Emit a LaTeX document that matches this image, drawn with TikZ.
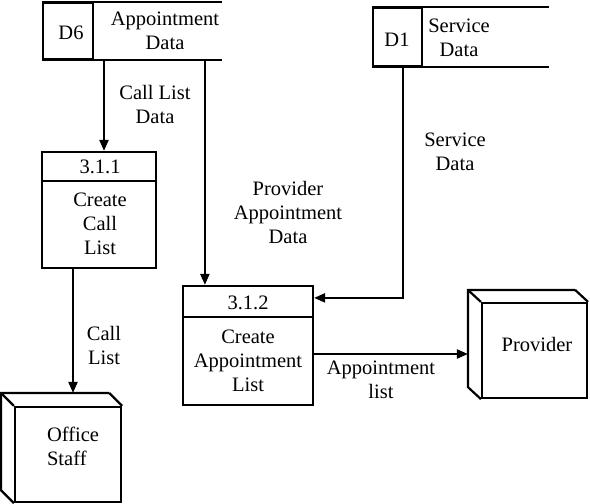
\documentclass[tikz,border=0pt]{standalone}
\usepackage{fontspec}
\setmainfont{Liberation Serif}
\newfontfamily\dfdfont{Liberation Serif}
\usetikzlibrary{arrows.meta,calc}
\begin{document}
\begin{tikzpicture}[x=1pt,y=-1pt,line width=2.2pt,
  every node/.style={font=\dfdfont\fontsize{20.5}{24}\selectfont, inner sep=0pt, align=center},
  flow/.style={-{Triangle[length=11pt,width=9pt]}},
  frame/.style={draw, line width=2.2pt}]
\useasboundingbox (0,0) rectangle (590,504);

% ---- data store D6
\node[frame, minimum width=50pt, minimum height=56pt] (d6id) at (68,31) {};
\node (d6num) at (71,33) {D6};
\coordinate (d6end) at (222,31);
\draw (d6id.north west) -- (d6id.north west -| d6end);
\draw (d6id.south west) -- (d6id.south west -| d6end);
\node (d6txt) at (165,31) {Appointment\\Data};

% ---- data store D1
\node[frame, minimum width=49pt, minimum height=58pt] (d1id) at (397.5,37) {};
\node (d1num) at (397,40) {D1};
\coordinate (d1end) at (549,37);
\draw (d1id.north west) -- (d1id.north west -| d1end);
\draw (d1id.south west) -- (d1id.south west -| d1end);
\node (d1txt) at (459,38) {Service\\Data};

% ---- process 3.1.1
\node[frame, minimum width=114pt, minimum height=116pt] (p1) at (99,210) {};
\draw ([yshift=-30pt]p1.north west) -- ([yshift=-30pt]p1.north east);
\node (p1num) at (100,167) {3.1.1};
\node (p1txt) at (100,224) {Create\\Call\\List};

% ---- process 3.1.2
\node[frame, minimum width=130pt, minimum height=119pt] (p2) at (248,345.5) {};
\draw ([yshift=-32pt]p2.north west) -- ([yshift=-32pt]p2.north east);
\node (p2num) at (248,303) {3.1.2};
\node (p2txt) at (248,361) {Create\\Appointment\\List};

% ---- external entity Provider
\node[frame, minimum width=105pt, minimum height=95pt] (prov) at (534.5,350.5) {};
\coordinate (provb) at ([xshift=-13pt,yshift=12pt]prov.north west);
\draw ([xshift=-13pt,yshift=12pt]prov.north east) -- (prov.north east);
\draw ([xshift=-13pt,yshift=12pt]prov.north east) -- (provb)
      -- ([xshift=-13pt,yshift=12pt]prov.south west) -- (prov.south west);
\draw (provb) -- (prov.north west);
\node (provtxt) at (537,344) {Provider};

% ---- external entity Office Staff
\node[frame, minimum width=106pt, minimum height=95pt] (off) at (68,454.5) {};
\coordinate (offb) at ([xshift=-13pt,yshift=13pt]off.north west);
\draw ([xshift=-13pt,yshift=13pt]off.north east) -- (off.north east);
\draw ([xshift=-13pt,yshift=13pt]off.north east) -- (offb)
      -- ([xshift=-13pt,yshift=13pt]off.south west) -- (off.south west);
\draw (offb) -- (off.north west);
\node[align=left, anchor=west] (offtxt) at (46,446) {Office\\Staff};

% ---- flows
\draw[flow] ([xshift=5pt]p1.north |- d6id.south) -- ([xshift=5pt]p1.north);
\node (l1) at (155,104) {Call List\\Data};

\draw[flow] ([xshift=23pt]p2.north west |- d6id.south) -- ([xshift=23pt]p2.north west);
\node (l2) at (288,212) {Provider\\Appointment\\Data};

\draw[flow] ([xshift=5.5pt]d1id.south) |- ([yshift=-13pt]p2.north east);
\node (l3) at (455,152) {Service\\Data};

\draw[flow] ([xshift=-26pt]p1.south) -- ([xshift=-26pt]p1.south |- offb);
\node (l4) at (104,345) {Call\\List};

\draw[flow] ([yshift=-8.5pt]p2.east) -- ([yshift=-8.5pt]p2.east -| provb);
\node (l5) at (381,380) {Appointment\\list};
\end{tikzpicture}
\end{document}
